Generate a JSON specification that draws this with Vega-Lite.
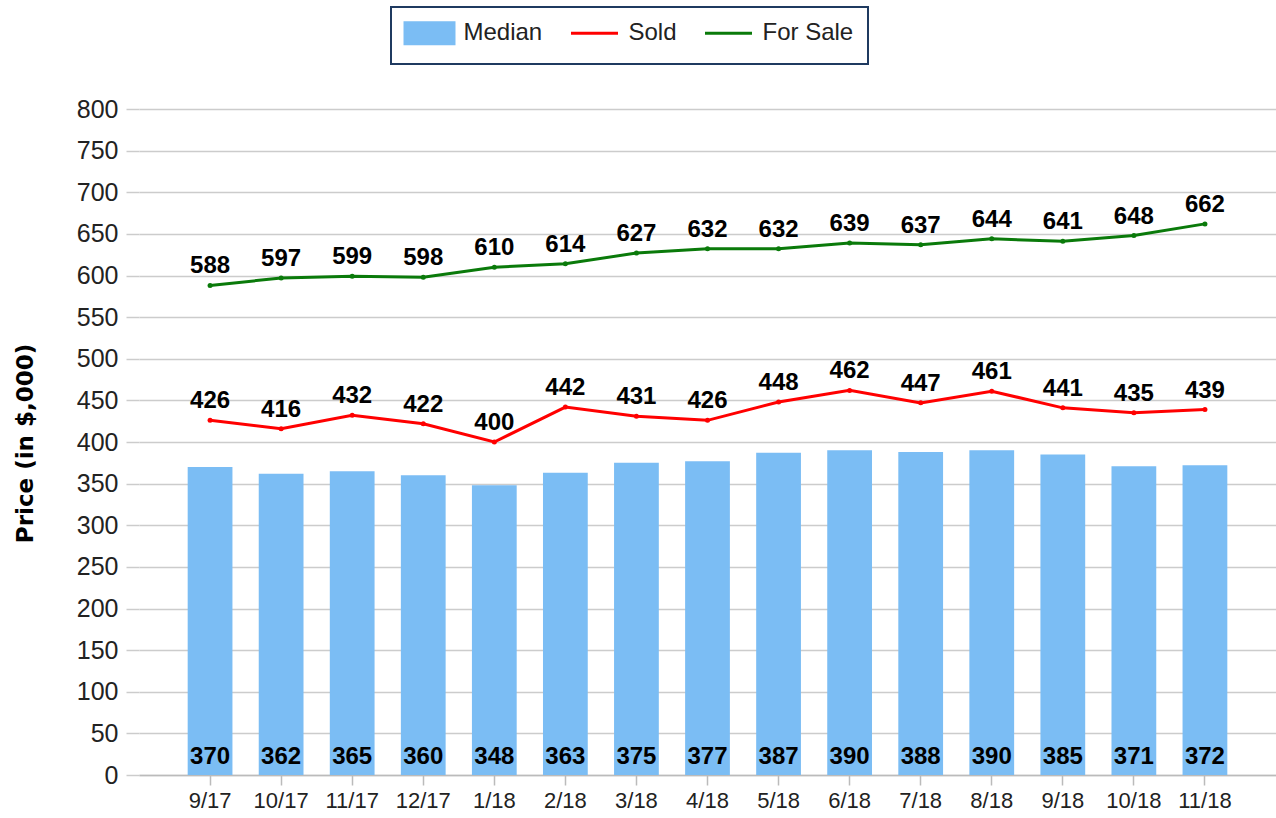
{
  "$schema": "https://vega.github.io/schema/vega-lite/v6.json",
  "width": 1137,
  "height": 666,
  "autosize": {"type": "none"},
  "padding": {"left": 139, "top": 109, "right": 0, "bottom": 43},
  "background": "white",
  "config": {
    "view": {"stroke": null},
    "font": "Liberation Sans"
  },
  "data": {
    "values": [
      {"month": "9/17", "median": 370, "sold": 426, "forsale": 588},
      {"month": "10/17", "median": 362, "sold": 416, "forsale": 597},
      {"month": "11/17", "median": 365, "sold": 432, "forsale": 599},
      {"month": "12/17", "median": 360, "sold": 422, "forsale": 598},
      {"month": "1/18", "median": 348, "sold": 400, "forsale": 610},
      {"month": "2/18", "median": 363, "sold": 442, "forsale": 614},
      {"month": "3/18", "median": 375, "sold": 431, "forsale": 627},
      {"month": "4/18", "median": 377, "sold": 426, "forsale": 632},
      {"month": "5/18", "median": 387, "sold": 448, "forsale": 632},
      {"month": "6/18", "median": 390, "sold": 462, "forsale": 639},
      {"month": "7/18", "median": 388, "sold": 447, "forsale": 637},
      {"month": "8/18", "median": 390, "sold": 461, "forsale": 644},
      {"month": "9/18", "median": 385, "sold": 441, "forsale": 641},
      {"month": "10/18", "median": 371, "sold": 435, "forsale": 648},
      {"month": "11/18", "median": 372, "sold": 439, "forsale": 662}
    ]
  },
  "encoding": {
    "x": {
      "field": "month",
      "type": "ordinal",
      "sort": null,
      "scale": {"paddingInner": 0.37, "paddingOuter": 0.685},
      "axis": {
        "title": null,
        "labelAngle": 0,
        "labelFontSize": 22,
        "labelColor": "#222222",
        "labelPadding": 5,
        "tickSize": 10,
        "tickColor": "#bbbbbb",
        "tickWidth": 1.5,
        "domainColor": "#bbbbbb",
        "domainWidth": 1.5,
        "grid": false
      }
    }
  },
  "layer": [
    {
      "mark": {"type": "bar", "color": "#7bbdf4"},
      "encoding": {
        "y": {
          "field": "median",
          "type": "quantitative",
          "scale": {"domain": [0, 800], "nice": false},
          "axis": {
            "title": "Price (in $,000)",
            "titleFont": "DejaVu Sans",
            "titleFontSize": 23,
            "titleFontWeight": "bold",
            "titleColor": "#000000",
            "titleX": -114,
            "titleY": 334,
            "titleAngle": 270,
            "titleAlign": "center",
            "titleBaseline": "middle",
            "values": [0, 50, 100, 150, 200, 250, 300, 350, 400, 450, 500, 550, 600, 650, 700, 750, 800],
            "labelFontSize": 25,
            "labelColor": "#222222",
            "labelPadding": 8,
            "tickSize": 13,
            "tickColor": "#cccccc",
            "tickWidth": 1.5,
            "domain": false,
            "grid": true,
            "gridColor": "#cccccc",
            "gridWidth": 1.5
          }
        },
        "color": {
          "datum": "Median",
          "scale": {"domain": ["Median", "Sold", "For Sale"], "range": ["#7bbdf4", "#ff0000", "#0a7a0a"]},
          "legend": {
            "title": null,
            "orient": "none",
            "direction": "horizontal",
            "legendX": 252,
            "legendY": -102,
            "fillColor": "white",
            "strokeColor": "#1f3a60",
            "padding": 14,
            "labelFontSize": 24,
            "labelColor": "#222222",
            "labelExpr": "datum.value === 'For Sale' ? 'For Sale     ' : datum.label",
            "labelOffset": 22,
            "symbolOffset": 12.5,
            "columnPadding": 22,
            "symbolSize": 441,
            "symbolStrokeWidth": 3,
            "symbolOpacity": 1,
            "encode": {
              "legend": {"update": {"strokeWidth": {"value": 2}}},
              "symbols": {
                "update": {
                  "shape": {"signal": "datum.value === 'Median' ? 'M-2.333,-1H2.333V1H-2.333Z' : 'M-2.238,-1M-2.238,0H2.238M2.238,1'"},
                  "fill": {"signal": "datum.value === 'Median' ? '#7bbdf4' : 'transparent'"},
                  "stroke": {"signal": "datum.value === 'Median' ? 'transparent' : (datum.value === 'Sold' ? '#ff0000' : '#0a7a0a')"},
                  "strokeWidth": {"value": 3},
                  "opacity": {"value": 1}
                }
              }
            }
          }
        }
      }
    },
    {
      "mark": {"type": "text", "baseline": "bottom", "dy": -6, "fontSize": 24, "fontWeight": "bold", "color": "#000000"},
      "encoding": {
        "y": {"datum": 0, "type": "quantitative"},
        "text": {"field": "median", "type": "quantitative"}
      }
    },
    {
      "mark": {"type": "line", "strokeWidth": 3, "point": {"filled": true, "size": 25, "color": "#ff0000"}},
      "encoding": {
        "y": {"field": "sold", "type": "quantitative"},
        "color": {"datum": "Sold"}
      }
    },
    {
      "mark": {"type": "text", "baseline": "bottom", "dy": -7, "fontSize": 24, "fontWeight": "bold", "color": "#000000"},
      "encoding": {
        "y": {"field": "sold", "type": "quantitative"},
        "text": {"field": "sold", "type": "quantitative"}
      }
    },
    {
      "mark": {"type": "line", "strokeWidth": 3, "point": {"filled": true, "size": 25, "color": "#0a7a0a"}},
      "encoding": {
        "y": {"field": "forsale", "type": "quantitative"},
        "color": {"datum": "For Sale"}
      }
    },
    {
      "mark": {"type": "text", "baseline": "bottom", "dy": -7, "fontSize": 24, "fontWeight": "bold", "color": "#000000"},
      "encoding": {
        "y": {"field": "forsale", "type": "quantitative"},
        "text": {"field": "forsale", "type": "quantitative"}
      }
    }
  ]
}
